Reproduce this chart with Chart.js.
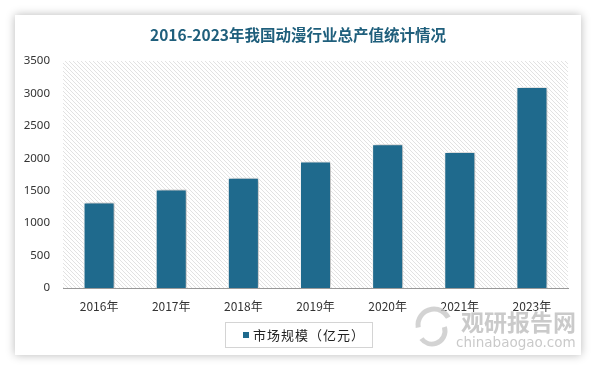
<!DOCTYPE html>
<html>
<head>
<meta charset="utf-8">
<script src="https://cdn.jsdelivr.net/npm/chart.js@4"></script>
<style>
html, body { margin: 0; padding: 0; background: #fff; }
#wrap { position: relative; width: 594px; height: 367px; overflow: hidden; }
#card { position: absolute; left: 15px; top: 15px; width: 566px; height: 340px; background: #fff; box-shadow: 0 0 9px rgba(0,0,0,0.28); }
canvas { position: absolute; left: 0; top: 0; }
</style>
</head>
<body>
<div id="wrap">
  <div id="card"></div>
  <canvas id="myChart" width="594" height="367"></canvas>
</div>
<script>
var years = ['2016年', '2017年', '2018年', '2019年', '2020年', '2021年', '2023年'];
var marketSize = [1320, 1520, 1700, 1950, 2215, 2095, 3100];
var yMin = 0;
var yMax = 3500;
var yStep = 500;
var seriesName = '市场规模（亿元）';
var titleText = '2016-2023年我国动漫行业总产值统计情况';
var barColor = '#1f6a8d';

// diagonal hatch behind the plot
function makeHatch() {
    var c = document.createElement('canvas');
    c.width = 4;
    c.height = 4;
    var g = c.getContext('2d');
    g.strokeStyle = '#dadada';
    g.lineWidth = 0.8;
    g.beginPath();
    g.moveTo(-1, -1); g.lineTo(5, 5);
    g.moveTo(-1, 3); g.lineTo(1, 5);
    g.moveTo(3, -1); g.lineTo(5, 1);
    g.stroke();
    return g.createPattern(c, 'repeat');
}

var hatchPlugin = {
    id: 'hatch',
    beforeDraw: function(chart) {
        var a = chart.chartArea;
        var ctx = chart.ctx;
        ctx.save();
        ctx.fillStyle = makeHatch();
        ctx.fillRect(a.left, a.top, a.right - a.left, a.bottom - a.top);
        ctx.restore();
    }
};

var shadowPlugin = {
    id: 'barShadow',
    beforeDatasetsDraw: function(chart) {
        var ctx = chart.ctx;
        ctx.save();
        ctx.shadowColor = 'rgba(0,0,0,0.35)';
        ctx.shadowBlur = 5;
        ctx.shadowOffsetX = 2;
        ctx.shadowOffsetY = 0;
    },
    afterDatasetsDraw: function(chart) {
        chart.ctx.restore();
    }
};

// title, boxed legend and watermark are drawn by hand so they centre on the whole card
var extrasPlugin = {
    id: 'extras',
    afterDraw: function(chart) {
        var ctx = chart.ctx;
        var ds = chart.data.datasets[0];
        ctx.save();
        ctx.textAlign = 'center';
        ctx.textBaseline = 'middle';
        ctx.fillStyle = '#1f5f7c';
        ctx.font = 'bold 15.5px "Noto Sans CJK SC"';
        ctx.fillText(titleText, 298, 35);

        ctx.strokeStyle = '#d4d4d4';
        ctx.lineWidth = 1;
        ctx.strokeRect(225.5, 322.5, 147, 25);
        ctx.fillStyle = ds.backgroundColor;
        ctx.fillRect(243, 332, 6, 6);
        ctx.fillStyle = '#222';
        ctx.textAlign = 'left';
        ctx.font = '13px "Noto Sans CJK SC"';
        ctx.letterSpacing = '1px';
        ctx.fillText(ds.label, 253, 335);
        ctx.restore();

        // watermark
        ctx.save();
        ctx.globalAlpha = 0.8;
        ctx.strokeStyle = '#c8c8c8';
        ctx.lineWidth = 5;
        ctx.beginPath();
        ctx.arc(434, 325, 16, Math.PI * 0.95, Math.PI * 1.85);
        ctx.stroke();
        ctx.beginPath();
        ctx.arc(432, 331, 13, Math.PI * -0.1, Math.PI * 0.8);
        ctx.stroke();
        ctx.fillStyle = '#bdbdbd';
        ctx.font = 'bold 23px "Noto Sans CJK SC"';
        ctx.textBaseline = 'alphabetic';
        ctx.textAlign = 'left';
        ctx.fillText('观研报告网', 461, 331);
        ctx.font = '13.5px "DejaVu Sans"';
        ctx.fillStyle = '#bcbcbc';
        ctx.fillText('chinabaogao.com', 456, 347);
        ctx.restore();
    }
};

var ctx1 = document.getElementById('myChart').getContext('2d');
var myBarChart = new Chart(ctx1, {
    type: 'bar',
    data: {
        labels: years,
        datasets: [
            {
                label: seriesName,
                data: marketSize,
                backgroundColor: barColor,
                borderColor: '#ffffff',
                borderWidth: 1,
                categoryPercentage: 1,
                barPercentage: 0.43
            }
        ]
    },
    options: {
        responsive: false,
        animation: false,
        layout: { padding: { left: 0, right: 26, top: 61, bottom: 49 } },
        plugins: {
            title: { display: false },
            legend: { display: false },
            tooltip: { enabled: false }
        },
        scales: {
            x: {
                grid: { display: false },
                border: { display: true, color: '#999', width: 1 },
                ticks: { color: '#333', padding: 3, font: { family: '"Noto Sans CJK SC"', size: 12 } },
                afterFit: function(scale) { scale.height = 30; }
            },
            y: {
                min: yMin,
                max: yMax,
                grid: { display: false },
                border: { display: false },
                ticks: {
                    stepSize: yStep,
                    color: '#333',
                    padding: 5,
                    font: { family: '"Noto Sans"', size: 11.5 },
                    callback: function(v) { return String(v); }
                },
                afterFit: function(scale) { scale.width = 63; }
            }
        }
    },
    plugins: [hatchPlugin, shadowPlugin, extrasPlugin]
});
</script>
</body>
</html>
